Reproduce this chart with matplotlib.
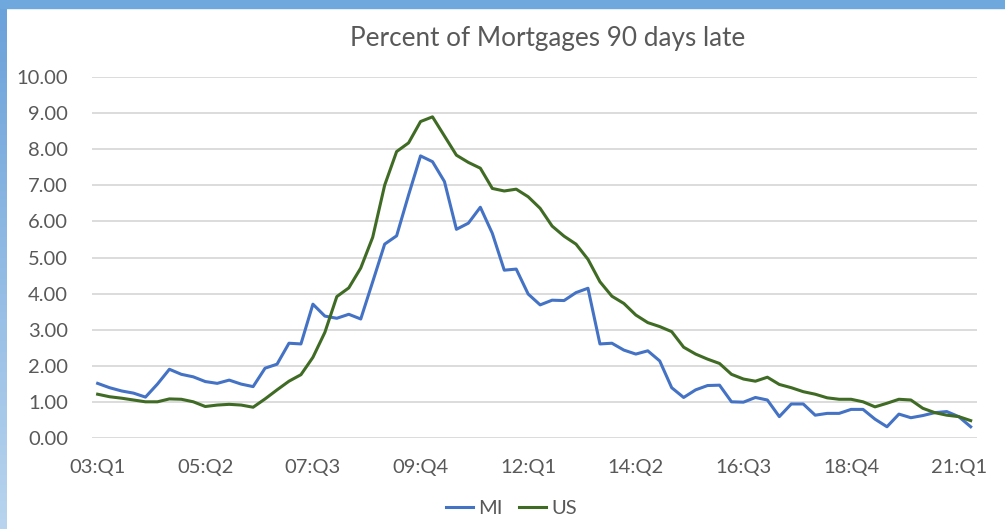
import matplotlib.pyplot as plt
import numpy as np
from matplotlib.patches import Rectangle

# Quarterly series, 03:Q1 .. 21:Q2
mi = [1.52, 1.40, 1.31, 1.25, 1.14, 1.50, 1.91, 1.77, 1.70, 1.57,
      1.52, 1.61, 1.50, 1.43, 1.94, 2.05, 2.63, 2.61, 3.71, 3.38,
      3.32, 3.43, 3.30, 4.33, 5.37, 5.60, 6.73, 7.81, 7.65, 7.10,
      5.78, 5.95, 6.39, 5.67, 4.65, 4.68, 3.99, 3.69, 3.82, 3.81,
      4.03, 4.15, 2.61, 2.63, 2.44, 2.33, 2.42, 2.14, 1.40, 1.13,
      1.34, 1.46, 1.47, 1.01, 1.00, 1.13, 1.06, 0.60, 0.95, 0.95,
      0.64, 0.69, 0.69, 0.80, 0.80, 0.53, 0.32, 0.67, 0.57, 0.63,
      0.71, 0.74, 0.60, 0.32]
us = [1.22, 1.15, 1.11, 1.06, 1.01, 1.01, 1.09, 1.08, 1.01, 0.88,
      0.92, 0.94, 0.92, 0.86, 1.09, 1.34, 1.58, 1.76, 2.24, 2.93,
      3.92, 4.16, 4.71, 5.56, 7.00, 7.93, 8.17, 8.76, 8.89, 8.36,
      7.83, 7.63, 7.47, 6.91, 6.84, 6.89, 6.68, 6.36, 5.87, 5.59,
      5.37, 4.95, 4.33, 3.93, 3.73, 3.41, 3.20, 3.09, 2.95, 2.52,
      2.33, 2.19, 2.07, 1.77, 1.64, 1.58, 1.69, 1.49, 1.40, 1.29,
      1.22, 1.12, 1.08, 1.08, 1.01, 0.87, 0.97, 1.08, 1.06, 0.83,
      0.71, 0.64, 0.60, 0.49]
tick_labels = ["03:Q1", "05:Q2", "07:Q3", "09:Q4", "12:Q1",
               "14:Q2", "16:Q3", "18:Q4", "21:Q1"]
tick_step = 9

plt.rcParams['font.family'] = ['Lato', 'DejaVu Sans']

fig = plt.figure(figsize=(10.05, 5.29), dpi=100)
ax = fig.add_axes([0.0912, 0.1714, 0.8806, 0.6836])

x = np.arange(len(mi))
ax.plot(x, mi, color='#4472c4', lw=2.2, label='MI', solid_joinstyle='round')
ax.plot(x, us, color='#3f6b24', lw=2.2, label='US', solid_joinstyle='round')

ax.set_xlim(-0.5, len(mi) - 0.5)
ax.set_ylim(0, 10)
ax.set_yticks(np.arange(0, 11, 1))
ax.set_yticklabels([f"{v:.2f}" for v in range(11)])
ax.set_xticks(np.arange(0, len(mi), tick_step))
ax.set_xticklabels(tick_labels)
ax.tick_params(length=0, labelsize=14.5, labelcolor='#595959')
ax.tick_params(axis='y', pad=17)
ax.tick_params(axis='x', pad=15)
ax.grid(axis='y', color='#d9d9d9', lw=1.3)
ax.set_axisbelow(True)
for s in ax.spines.values():
    s.set_visible(False)

fig.text(0.545, 0.928, "Percent of Mortgages 90 days late", ha='center',
         va='center', fontsize=18.8, color='#595959')

fig.legend(loc='center', bbox_to_anchor=(0.509, 0.038), ncol=2, frameon=False,
           fontsize=14.5, handlelength=1.35, handletextpad=0.25,
           columnspacing=0.8, labelcolor='#595959')

# blue frame: band on top, gradient strip on the left
fig.patches.append(Rectangle((0, 1 - 8 / 529), 1, 8 / 529, transform=fig.transFigure,
                             color='#6fa8dc', zorder=5))
strip = fig.add_axes([0, 0, 6 / 1005, 1 - 8 / 529])
strip.imshow(np.linspace(0, 1, 200).reshape(-1, 1), aspect='auto',
             cmap=plt.matplotlib.colors.LinearSegmentedColormap.from_list(
                 'edge', ['#6ba2da', '#b8d4ee']))
strip.axis('off')

fig.savefig('out.png', dpi=100)
